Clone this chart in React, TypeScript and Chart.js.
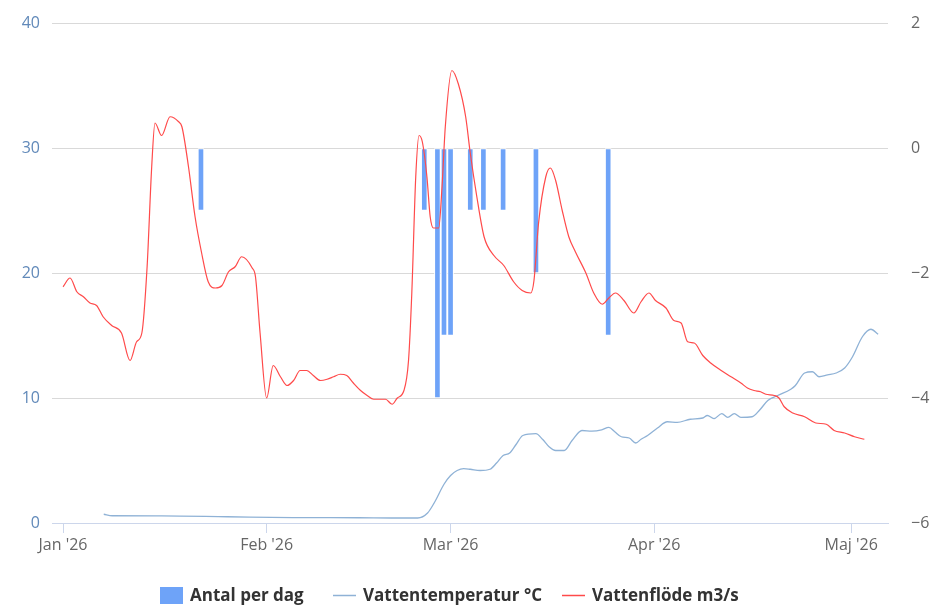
import { useEffect, useRef } from "react";
import { Chart, registerables } from "chart.js";

Chart.register(...registerables);

// x values are days since 1 Jan 2026
const monthTickDays = [0, 31, 59, 90, 120];
const monthTickLabels = ["Jan '26", "Feb '26", "Mar '26", "Apr '26", "Maj '26"];
const xMin = -1.68;
const xMax = 125.6;

const barDays = [21, 55, 57, 58, 59, 62, 64, 67, 72, 83];
const barValues = [-1, -1, -4, -3, -3, -1, -1, -1, -2, -3];

const tempDays = [
  6.2, 7.5, 15, 25, 35, 45, 50, 54, 55.5, 56.5, 58, 59, 60, 61, 62, 63.5, 65, 66, 67, 68, 69, 70,
  72, 73, 74, 75, 76.3, 77.5, 79, 80.5, 82, 83.1, 84, 85, 86.2, 87.2, 88, 89, 90.5, 92, 93.5, 95.5,
  97.4, 98.1, 99.1, 100.3, 101.2, 102.2, 103.2, 104.9, 106, 107.3, 108.8, 110.8, 111.5, 112.9,
  114.1, 115.1, 116.4, 117.7, 119, 120.2, 121.7, 123, 124.1,
];
const tempValues = [
  0.7, 0.58, 0.57, 0.5, 0.43, 0.42, 0.4, 0.4, 0.8, 1.6, 3.1, 3.8, 4.2, 4.35, 4.3, 4.2, 4.3, 4.8,
  5.4, 5.6, 6.3, 7.0, 7.15, 6.7, 6.1, 5.8, 5.8, 6.6, 7.4, 7.35, 7.45, 7.65, 7.3, 6.9, 6.8, 6.4, 6.7,
  7.0, 7.6, 8.1, 8.05, 8.3, 8.4, 8.6, 8.35, 8.75, 8.45, 8.75, 8.45, 8.5, 9.0, 9.8, 10.2, 10.7, 11.0,
  12.0, 12.1, 11.7, 11.85, 12.0, 12.4, 13.3, 14.9, 15.5, 15.1,
];

const flowDays = [
  0, 1.07, 2.1, 3.1, 4.1, 5.1, 6.1, 7.4, 8.9, 10.2, 11.2, 12, 12.8, 13.5, 14, 15, 16.3, 17.6, 18.1,
  19.1, 20.1, 21.1, 22.1, 23.2, 24.2, 25.2, 26.2, 27.2, 28.8, 29.3, 30, 31, 32, 33.1, 34.1, 35.1,
  36.1, 37.1, 38.1, 39.2, 40.2, 41.2, 42.2, 43.2, 44.2, 45.3, 46.3, 47.3, 48.3, 49.1, 50.1, 50.9,
  51.9, 52.6, 53.1, 53.7, 54.2, 54.7, 55.4, 55.9, 56.4, 57.2, 57.7, 58.2, 59.2, 60.2, 61.3, 62, 63,
  64.1, 65.6, 67.1, 68.6, 69.9, 71.2, 71.7, 72.4, 73.5, 74.2, 75, 76, 77, 78, 79.6, 80.8, 82.1,
  83.1, 84.1, 85.4, 86.9, 88, 89.2, 90.2, 91.8, 93, 94.1, 95.1, 96.1, 97.4, 98.6, 100.2, 101.7,
  103.2, 104.2, 105.2, 106.2, 107, 108.3, 109, 109.8, 111.1, 112.9, 114.6, 116.2, 117.4, 119,
  120.5, 122,
];
const flowValues = [
  18.9, 19.6, 18.5, 18.1, 17.6, 17.4, 16.5, 15.8, 15.2, 13.0, 14.5, 15.2, 20.5, 28.5, 32.0, 31.0,
  32.5, 32.1, 31.7, 28.5, 24.5, 21.6, 19.3, 18.8, 19.0, 20.1, 20.5, 21.3, 20.4, 19.7, 15.2, 10.0,
  12.6, 11.7, 11.0, 11.4, 12.2, 12.2, 11.8, 11.4, 11.5, 11.7, 11.9, 11.8, 11.2, 10.6, 10.2, 9.9,
  9.9, 9.9, 9.5, 10.0, 10.6, 13.0, 18.4, 27.7, 31.0, 30.5, 27.7, 24.5, 23.6, 23.6, 26.9, 31.7,
  36.2, 35.1, 32.5, 29.6, 26.1, 22.9, 21.4, 20.6, 19.3, 18.6, 18.4, 19.4, 24.0, 27.7, 28.4, 27.4,
  25.0, 22.9, 21.7, 20.0, 18.4, 17.5, 18.0, 18.4, 17.8, 16.8, 17.7, 18.4, 17.8, 17.2, 16.2, 16.0,
  14.5, 14.4, 13.4, 12.8, 12.2, 11.7, 11.2, 10.8, 10.6, 10.5, 10.3, 10.2, 10.0, 9.3, 8.8, 8.5, 8.0,
  7.9, 7.4, 7.2, 6.9, 6.7,
];

const BAR_COLOR = "#6ea3f8";
const TEMP_COLOR = "#8fb2d6";
const FLOW_COLOR = "#ff4a4a";

const legendStarts = [160, 333, 562];

const legendPlugin = {
  id: "hcLegend",
  afterDraw(chart: any) {
    const ctx = chart.ctx as CanvasRenderingContext2D;
    ctx.save();
    ctx.font = 'bold 17px "Open Sans"';
    const sym = 23;
    const symPad = 7;
    const cy = 595.5;
    ctx.textBaseline = "middle";
    ctx.textAlign = "left";
    chart.data.datasets.forEach((ds: any, i: number) => {
      const x = legendStarts[i];
      if (ds.type === "bar") {
        ctx.fillStyle = ds.backgroundColor;
        ctx.fillRect(x, cy - 8.5, sym, 17);
      } else {
        ctx.strokeStyle = ds.borderColor;
        ctx.lineWidth = 1.5;
        ctx.beginPath();
        ctx.moveTo(x, cy);
        ctx.lineTo(x + sym, cy);
        ctx.stroke();
      }
      ctx.fillStyle = "#333333";
      ctx.fillText(ds.label, x + sym + symPad, cy + 1);
    });
    ctx.restore();
  },
};

export default function App() {
  const ref = useRef<HTMLCanvasElement>(null);

  useEffect(() => {
    document.body.style.margin = "0";
    const canvas = ref.current;
    if (!canvas) return;
    const axisFont = { family: '"Open Sans"', size: 16 };
    const chart = new Chart(canvas, {
      type: "line",
      data: {
        datasets: [
          {
            type: "bar",
            label: "Antal per dag",
            yAxisID: "y1",
            data: barDays.map((d, i) => ({ x: d, y: barValues[i] })),
            backgroundColor: BAR_COLOR,
            borderColor: "#ffffff",
            borderWidth: 1,
            borderSkipped: false,
            barThickness: 6,
            order: 3,
          } as any,
          {
            type: "line",
            label: "Vattentemperatur °C",
            yAxisID: "y",
            data: tempDays.map((d, i) => ({ x: d, y: tempValues[i] })),
            borderColor: TEMP_COLOR,
            borderWidth: 1.3,
            pointRadius: 0,
            fill: false,
            cubicInterpolationMode: "monotone",
            order: 2,
          },
          {
            type: "line",
            label: "Vattenflöde m3/s",
            yAxisID: "y",
            data: flowDays.map((d, i) => ({ x: d, y: flowValues[i] })),
            borderColor: FLOW_COLOR,
            borderWidth: 1.2,
            pointRadius: 0,
            fill: false,
            cubicInterpolationMode: "monotone",
            order: 1,
          },
        ],
      },
      options: {
        responsive: false,
        animation: false,
        devicePixelRatio: 1,
        layout: { padding: { top: 23, bottom: 43, left: 0, right: 0 } },
        plugins: {
          legend: { display: false },
          tooltip: { enabled: false },
        },
        scales: {
          x: {
            type: "linear",
            min: xMin,
            max: xMax,
            offset: false,
            afterBuildTicks: (s: any) => {
              s.ticks = monthTickDays.map((v) => ({ value: v }));
            },
            afterFit: (s: any) => {
              s.height = 40;
            },
            ticks: {
              callback: (_v: any, i: number) => monthTickLabels[i] ?? "",
              color: "#666666",
              font: axisFont,
              maxRotation: 0,
              autoSkip: false,
              padding: 3,
            },
            grid: {
              display: true,
              offset: false,
              drawOnChartArea: false,
              drawTicks: true,
              tickLength: 10,
              color: "#ccd6eb",
              lineWidth: 1,
            },
            border: { display: true, color: "#ccd6eb", width: 1 },
          },
          y: {
            type: "linear",
            position: "left",
            min: 0,
            max: 40,
            afterFit: (s: any) => {
              s.width = 52;
            },
            ticks: { stepSize: 10, color: "#6189b9", font: axisFont, padding: 12 },
            grid: { color: "#d9d9d9", drawTicks: false, lineWidth: 1 },
            border: { display: false },
          },
          y1: {
            type: "linear",
            position: "right",
            min: -6,
            max: 2,
            afterFit: (s: any) => {
              s.width = 42;
            },
            ticks: {
              stepSize: 2,
              color: "#666666",
              font: axisFont,
              padding: 12,
              callback: (v: any) => String(v).replace("-", "\u2212"),
            },
            grid: {
              display: true,
              drawOnChartArea: false,
              drawTicks: true,
              tickLength: 11,
              color: "rgba(0,0,0,0)",
            },
            border: { display: false },
          },
        },
      },
      plugins: [legendPlugin],
    });
    return () => chart.destroy();
  }, []);

  return <canvas ref={ref} width={930} height={606} style={{ display: "block" }} />;
}
